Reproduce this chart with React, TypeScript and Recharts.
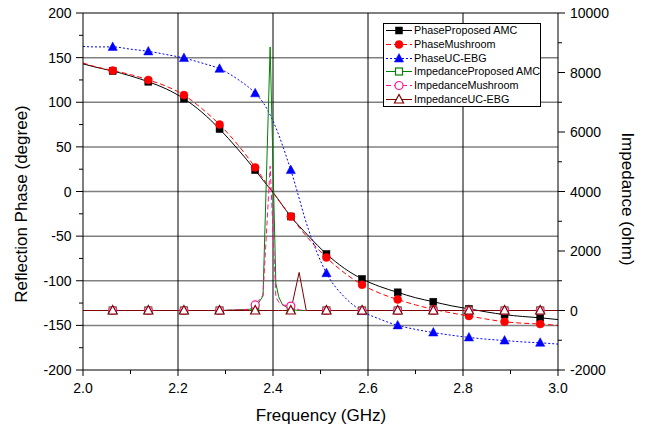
import React from "react";
import { LineChart, Line, XAxis, YAxis, CartesianGrid, Legend } from "recharts";

// phase curves (degree), sampled on phaseFreq (GHz)
const phaseFreq = [
  2.0, 2.025, 2.0625, 2.1, 2.1375, 2.175, 2.2125, 2.25, 2.2875, 2.325, 2.3625, 2.38, 2.4, 2.4375,
  2.475, 2.5125, 2.55, 2.5875, 2.625, 2.6625, 2.7, 2.7375, 2.775, 2.8125, 2.85, 2.8875, 2.925, 2.9625, 3.0,
];
const phaseAMC = [
  143, 139.5, 135, 129.5, 123, 115, 104, 89, 70, 48, 24, 12, -1, -28,
  -50, -70, -86, -98, -106.5, -113, -119, -123.5, -128, -131.5, -135, -138, -140, -141.5, -143.5,
];
const phaseMushroom = [
  144, 140, 135.5, 131, 125, 118, 108, 93, 75, 53, 27, 14, -1, -28,
  -53, -74, -91, -104.5, -114, -121, -127, -132, -136, -139.5, -143, -146, -147.5, -148.5, -150,
];
const phaseUCEBG = [
  162.5, 162, 162, 159.5, 157, 153.5, 149.5, 144, 137.5, 126, 110, 99, 79, 24,
  -43, -91.5, -118, -134, -143, -150, -154.5, -158, -161, -163.5, -165.5, -167, -168.5, -169.5, -171,
];

// impedance curves (ohm), sampled on impFreq (GHz)
const impFreq = [
  2.0, 2.0625, 2.1375, 2.2125, 2.2875, 2.35, 2.3625, 2.379, 2.394, 2.406, 2.412, 2.42, 2.4375,
  2.455, 2.47, 2.5125, 2.5875, 2.6625, 2.7375, 2.8125, 2.8875, 2.9625, 3.0,
];
const impAMC = [0, 0, 0, 0, 0, 40, 70, 490, 8860, 920, 460, 190, 30, 0, 0, 0, 0, 0, 0, 0, 0, 0, 0];
const impMushroom = [0, 0, 0, 0, 0, 40, 186, 520, 4850, 470, 280, 190, 150, 20, 0, 0, 0, 0, 0, 0, 0, 0, 0];
const impUCEBG = [0, 0, 0, 0, 0, 0, 0, 0, 0, 0, 0, 0, 0, 1280, 0, 0, 0, 0, 0, 0, 0, 0, 0];

const markerFreq = [2.0625, 2.1375, 2.2125, 2.2875, 2.3625, 2.4375, 2.5125, 2.5875, 2.6625, 2.7375, 2.8125, 2.8875, 2.9625];

const xMajor = [2.0, 2.2, 2.4, 2.6, 2.8, 3.0];
const xMinor = [2.1, 2.3, 2.5, 2.7, 2.9];
const phaseMajor = [-200, -150, -100, -50, 0, 50, 100, 150, 200];
const phaseMinor = [-175, -125, -75, -25, 25, 75, 125, 175];
const impMajor = [-2000, 0, 2000, 4000, 6000, 8000, 10000];
const impMinor = [-1000, 1000, 3000, 5000, 7000, 9000];
const phaseGrid = [-150, -100, -50, 0, 50, 100, 150];
const freqGrid = [2.2, 2.4, 2.6, 2.8];

const FONT = "'Liberation Sans', Arial, sans-serif";

const phaseData = phaseFreq.map((f, i) => ({ f, amc: phaseAMC[i], mush: phaseMushroom[i], ebg: phaseUCEBG[i] }));
const impData = impFreq.map((f, i) => ({ f, amc: impAMC[i], mush: impMushroom[i], ebg: impUCEBG[i] }));

const near = (list: number[], v: number) => list.some((m) => Math.abs(m - v) < 1e-6);

type Shape = "square" | "circle" | "triangle";

const series = [
  { name: "PhaseProposed AMC", key: "amc", group: "phase", color: "#000000", dash: undefined, shape: "square", filled: true },
  { name: "PhaseMushroom", key: "mush", group: "phase", color: "#ff0000", dash: "5 3", shape: "circle", filled: true },
  { name: "PhaseUC-EBG", key: "ebg", group: "phase", color: "#0000ff", dash: "2 2", shape: "triangle", filled: true },
  { name: "ImpedanceProposed AMC", key: "amc", group: "imp", color: "#008000", dash: undefined, shape: "square", filled: false },
  { name: "ImpedanceMushroom", key: "mush", group: "imp", color: "#ff1493", dash: "5 3", shape: "circle", filled: false },
  { name: "ImpedanceUC-EBG", key: "ebg", group: "imp", color: "#800000", dash: undefined, shape: "triangle", filled: false },
];

function Marker({ x, y, shape, color, filled }: { x: number; y: number; shape: Shape; color: string; filled: boolean }) {
  const fill = filled ? color : "#fff";
  const sw = filled ? 0.5 : 1.2;
  if (shape === "square") return <rect x={x - 3.5} y={y - 3.5} width={7} height={7} fill={fill} stroke={color} strokeWidth={sw} />;
  if (shape === "circle") return <circle cx={x} cy={y} r={4} fill={fill} stroke={color} strokeWidth={sw} />;
  return <polygon points={`${x},${y - 5} ${x - 4.6},${y + 3.5} ${x + 4.6},${y + 3.5}`} fill={fill} stroke={color} strokeWidth={sw} />;
}

const makeDot = (shape: Shape, color: string, filled: boolean) => (props: any) => {
  const { cx, cy, payload, index } = props;
  if (cx == null || cy == null || !near(markerFreq, payload.f)) return <g key={`d${index}`} />;
  return <Marker key={`d${index}`} x={cx} y={cy} shape={shape} color={color} filled={filled} />;
};

function XTick({ x, y, payload }: any) {
  const major = near(xMajor, payload.value);
  const ay = y - 8;
  return (
    <g>
      <line x1={x} x2={x} y1={ay} y2={ay + (major ? 6 : 4)} stroke="#000" />
      {major && (
        <text x={x} y={ay + 23} textAnchor="middle" fontSize={14} fontFamily={FONT} fill="#000">
          {payload.value.toFixed(1)}
        </text>
      )}
    </g>
  );
}

function LeftTick({ x, y, payload }: any) {
  const major = near(phaseMajor, payload.value);
  const ax = x + 9;
  return (
    <g>
      <line x1={ax - (major ? 7 : 4)} x2={ax} y1={y} y2={y} stroke="#000" />
      {major && (
        <text x={ax - 11.5} y={y + 5} textAnchor="end" fontSize={14} fontFamily={FONT} fill="#000">
          {payload.value}
        </text>
      )}
    </g>
  );
}

function RightTick({ x, y, payload }: any) {
  const major = near(impMajor, payload.value);
  const ax = x - 9;
  return (
    <g>
      <line x1={ax} x2={ax + (major ? 7 : 4)} y1={y} y2={y} stroke="#000" />
      {major && (
        <text x={ax + 12} y={y + 5} textAnchor="start" fontSize={14} fontFamily={FONT} fill="#000">
          {payload.value}
        </text>
      )}
    </g>
  );
}

const LeftTitle = () => (
  <text transform="translate(27,204) rotate(-90)" textAnchor="middle" fontSize={17} fontFamily={FONT} fill="#000">
    Reflection Phase (degree)
  </text>
);
const RightTitle = () => (
  <text transform="translate(622,199) rotate(90)" textAnchor="middle" fontSize={17} fontFamily={FONT} fill="#000">
    Impedance (ohm)
  </text>
);
const BottomTitle = () => (
  <text x={321} y={420.5} textAnchor="middle" fontSize={17} fontFamily={FONT} fill="#000">
    Frequency (GHz)
  </text>
);

function ChartLegend() {
  return (
    <div
      style={{
        width: 158,
        height: 84,
        border: "1px solid #000",
        background: "#fff",
        boxSizing: "border-box",
        fontFamily: FONT,
        fontSize: 10.8,
        color: "#000",
      }}
    >
      {series.map((s) => (
        <div key={s.name} style={{ display: "flex", alignItems: "center", height: 13.66 }}>
          <svg width={30} height={13} style={{ flex: "none" }}>
            <line x1={2} x2={28} y1={6.5} y2={6.5} stroke={s.color} strokeDasharray={s.dash} />
            <Marker x={15} y={6.5} shape={s.shape as Shape} color={s.color} filled={s.filled} />
          </svg>
          <span style={{ whiteSpace: "nowrap", lineHeight: "13px" }}>{s.name}</span>
        </div>
      ))}
    </div>
  );
}

export default function App() {
  return (
    <div style={{ position: "absolute", left: 0, top: 0 }}>
      <LineChart width={654} height={430} margin={{ top: 13, right: 0, bottom: 0, left: 0 }}>
        <CartesianGrid yAxisId="phase" vertical={false} horizontalValues={phaseGrid} stroke="#808080" strokeWidth={1.5} />
        <CartesianGrid yAxisId="phase" verticalValues={freqGrid} horizontalValues={[200]} stroke="#000" strokeWidth={1} />
        <XAxis
          type="number"
          dataKey="f"
          domain={[2, 3]}
          ticks={[...xMajor, ...xMinor].sort((a, b) => a - b)}
          interval={0}
          height={60}
          tickSize={6}
          tickMargin={2}
          tickLine={false}
          tick={<XTick />}
          axisLine={{ stroke: "#000" }}
          label={<BottomTitle />}
          allowDataOverflow
        />
        <YAxis
          yAxisId="phase"
          type="number"
          domain={[-200, 200]}
          ticks={[...phaseMajor, ...phaseMinor].sort((a, b) => a - b)}
          interval={0}
          width={83}
          tickSize={7}
          tickMargin={2}
          tickLine={false}
          tick={<LeftTick />}
          axisLine={{ stroke: "#000" }}
          label={<LeftTitle />}
          allowDataOverflow
        />
        <YAxis
          yAxisId="imp"
          orientation="right"
          type="number"
          domain={[-2000, 10000]}
          ticks={[...impMajor, ...impMinor].sort((a, b) => a - b)}
          interval={0}
          width={96}
          tickSize={7}
          tickMargin={2}
          tickLine={false}
          tick={<RightTick />}
          axisLine={{ stroke: "#000" }}
          label={<RightTitle />}
          allowDataOverflow
        />
        <Legend
          layout="vertical"
          align="center"
          verticalAlign="middle"
          content={<ChartLegend />}
          wrapperStyle={{ left: 383, top: 23, width: 158, height: 84 }}
        />
        {series.map((s) => (
          <Line
            key={s.name}
            name={s.name}
            data={s.group === "phase" ? phaseData : impData}
            yAxisId={s.group}
            dataKey={s.key}
            type={s.group === "phase" ? "monotone" : "linear"}
            stroke={s.color}
            strokeWidth={1}
            strokeDasharray={s.dash}
            dot={makeDot(s.shape as Shape, s.color, s.filled)}
            activeDot={false}
            isAnimationActive={false}
          />
        ))}
      </LineChart>
    </div>
  );
}
